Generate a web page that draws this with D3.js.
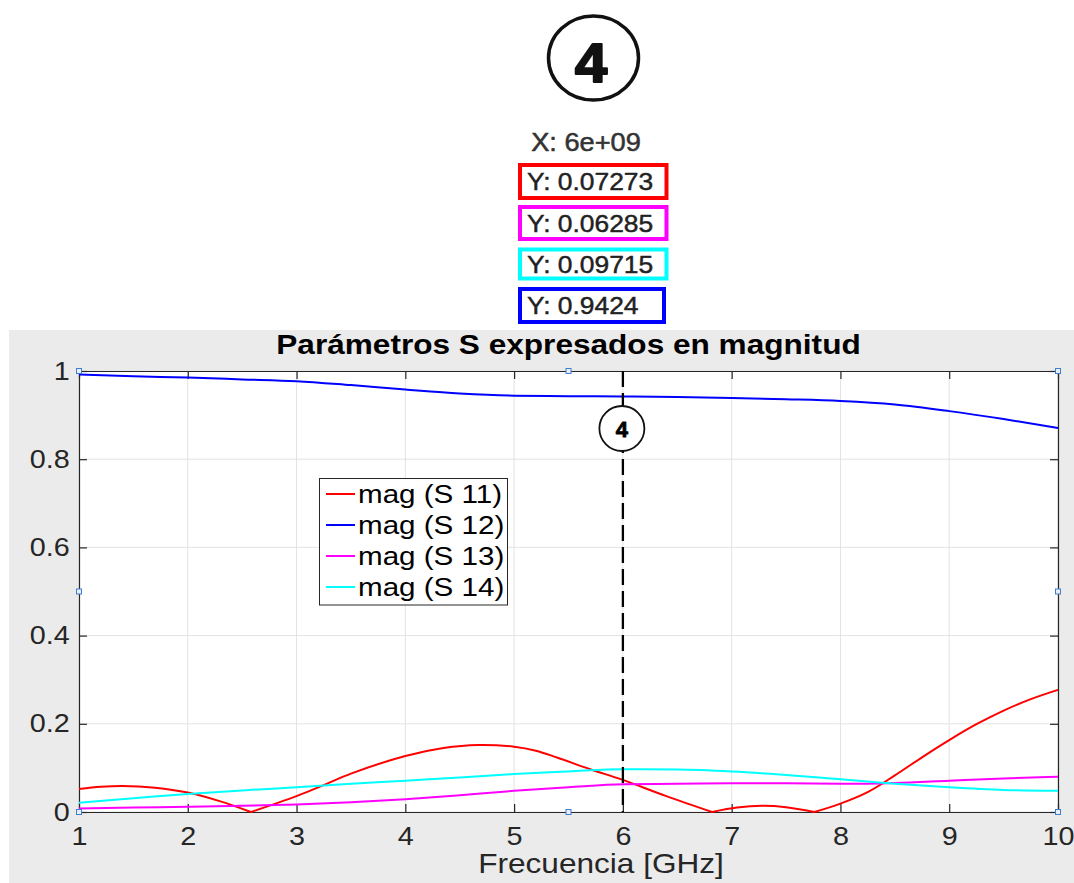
<!DOCTYPE html>
<html><head><meta charset="utf-8">
<script src="https://cdn.jsdelivr.net/npm/d3@7"></script>
<style>
html,body{margin:0;padding:0;background:#fff;}
svg{display:block;}
text{font-family:"Liberation Sans",Arial,Helvetica,sans-serif;}
</style></head>
<body>
<svg id="chart" width="1074" height="883"></svg>
<script>
// ---------- data ----------
const freq = [1,1.5,2,2.5,3,3.5,4,4.5,5,5.5,6,6.5,7,7.5,8,8.5,9,9.5,10];
const magS12 = [0.992,0.988,0.985,0.981,0.977,0.968,0.958,0.949,0.944,0.943,0.9424,0.941,0.939,0.936,0.932,0.924,0.909,0.891,0.871];
const magS13 = [0.008,0.010,0.012,0.014,0.017,0.022,0.029,0.038,0.048,0.056,0.06285,0.064,0.065,0.065,0.064,0.066,0.071,0.076,0.080];
const magS14 = [0.021,0.031,0.041,0.049,0.056,0.064,0.071,0.078,0.086,0.092,0.09715,0.0965,0.092,0.084,0.074,0.064,0.056,0.050,0.048];
const freqS11 = [1,1.2,1.4,1.7,2,2.3,2.58,3,3.25,3.5,4,4.35,4.67,5,5.2,5.4,5.7,6,6.4,6.82,7.05,7.28,7.5,7.76,8,8.25,8.5,8.75,9,9.25,9.5,9.75,10];
const magS11  = [0.052,0.057,0.059,0.055,0.044,0.024,0,0.036,0.061,0.087,0.127,0.145,0.152,0.148,0.139,0.123,0.097,0.07273,0.036,0,0.010,0.014,0.011,0,0.019,0.045,0.083,0.124,0.163,0.199,0.230,0.256,0.277];

const seriesNames = ["mag (S 11)","mag (S 12)","mag (S 13)","mag (S 14)"];
const seriesColors = ["#ff0000","#0000ff","#ff00ff","#00ffff"];
const xTicks = [1,2,3,4,5,6,7,8,9,10];
const yTicks = [0,0.2,0.4,0.6,0.8,1];
const yTickLabels = ["0","0.2","0.4","0.6","0.8","1"];
const markerX = 6;
const markerLabel = "4";
const datatipX = "X: 6e+09";
const datatipY = ["Y: 0.07273","Y: 0.06285","Y: 0.09715","Y: 0.9424"];
const datatipColors = ["#ff0000","#ff00ff","#00ffff","#0000ff"];
const titleText = "Parámetros S expresados en magnitud";
const xLabelText = "Frecuencia [GHz]";

// ---------- layout ----------
const svg = d3.select("#chart");
const SX = 1.15; // horizontal stretch of text seen in reference
const L = 79, R = 1058, T = 371, B = 812;
const x = d3.scaleLinear().domain([1,10]).range([L,R]);
const y = d3.scaleLinear().domain([0,1]).range([B,T]);
const axisColor = "#262626";

function stretchedText(parent, px, py, str, opts) {
  const g = parent.append("g").attr("transform", `translate(${px},${py}) scale(${opts.sx||SX},1)`);
  const t = g.append("text").attr("x",0).attr("y",0)
    .attr("text-anchor", opts.anchor||"middle")
    .attr("font-size", opts.size)
    .attr("font-weight", opts.weight||"normal")
    .attr("fill", opts.fill||"#000")
    .text(str);
  if (opts.stroke) t.attr("stroke", opts.fill||"#000").attr("stroke-width", opts.stroke).attr("stroke-linejoin","round");
  return t;
}

// ---------- datatip header ----------
svg.append("ellipse").attr("cx",593.5).attr("cy",58).attr("rx",45).attr("ry",42)
  .attr("fill","#fff").attr("stroke","#111").attr("stroke-width",3.5);
stretchedText(svg, 591, 82, markerLabel, {size:55, weight:"bold", sx:1.05, fill:"#111", stroke:2.2});
stretchedText(svg, 586, 151, datatipX, {size:25, fill:"#333", sx:1.09, stroke:0.5});
const boxY = [165, 207, 249.5, 289];
const boxH = [33, 32, 29, 33];
datatipY.forEach((s,i)=>{
  const w = i===3 ? 144 : 146.5;
  svg.append("rect").attr("x",520).attr("y",boxY[i]).attr("width",w).attr("height",boxH[i])
    .attr("fill","#fff").attr("stroke",datatipColors[i]).attr("stroke-width",4);
  stretchedText(svg, 527, boxY[i]+boxH[i]/2+8.5, s, {size:24, anchor:"start", fill:"#222", sx:1.1, stroke:0.45});
});

// ---------- figure background ----------
svg.append("rect").attr("x",9).attr("y",330).attr("width",1065).attr("height",553).attr("fill","#ebebeb");
svg.append("rect").attr("x",L).attr("y",T).attr("width",R-L).attr("height",B-T).attr("fill","#fff");

// grid
const grid = svg.append("g");
grid.selectAll("line.gx").data(xTicks).join("line")
  .attr("x1",d=>x(d)).attr("x2",d=>x(d)).attr("y1",T).attr("y2",B)
  .attr("stroke","#e3e3e3").attr("stroke-width",1);
grid.selectAll("line.gy").data(yTicks).join("line")
  .attr("x1",L).attr("x2",R).attr("y1",d=>y(d)).attr("y2",d=>y(d))
  .attr("stroke","#e3e3e3").attr("stroke-width",1);

// axes
function styleAxis(g){
  g.select(".domain").attr("stroke",axisColor).attr("stroke-width",1.2);
  g.selectAll(".tick line").attr("stroke",axisColor).attr("stroke-width",1.2);
  g.selectAll(".tick text").attr("fill",axisColor).attr("font-family",'"Liberation Sans",Arial,sans-serif');
}
const gx = svg.append("g").attr("transform",`translate(0,${B})`)
  .call(d3.axisBottom(x).tickValues(xTicks).tickFormat(d3.format("d")).tickSize(-8).tickSizeOuter(0).tickPadding(15));
styleAxis(gx);
gx.selectAll(".tick text").attr("font-size",25).attr("transform",`scale(${SX},1)`);
const gy = svg.append("g").attr("transform",`translate(${L},0)`)
  .call(d3.axisLeft(y).tickValues(yTicks).tickFormat((d,i)=>yTickLabels[i]).tickSize(-8).tickSizeOuter(0).tickPadding(8));
styleAxis(gy);
gy.selectAll(".tick text").attr("font-size",25).attr("transform",`scale(${SX},1)`);
const gt = svg.append("g").attr("transform",`translate(0,${T})`)
  .call(d3.axisTop(x).tickValues(xTicks).tickFormat("").tickSize(-8).tickSizeOuter(0));
styleAxis(gt);
const gr = svg.append("g").attr("transform",`translate(${R},0)`)
  .call(d3.axisRight(y).tickValues(yTicks).tickFormat("").tickSize(-8).tickSizeOuter(0));
styleAxis(gr);

// ---------- lines ----------
const lineGen = d3.line().x(d=>x(d[0])).y(d=>y(d[1])).curve(d3.curveMonotoneX);
const redGen = d3.line().x(d=>x(d[0])).y(d=>y(d[1])).curve(d3.curveCatmullRom.alpha(0.5));
const plot = svg.append("g");
function drawSeries(fx, vals, color){
  plot.append("path").attr("d", lineGen(fx.map((f,i)=>[f,vals[i]])))
    .attr("fill","none").attr("stroke",color).attr("stroke-width",2);
}
// S11: split into arcs at its zeros so the notches stay sharp
(function(){
  const pts = freqS11.map((f,i)=>[f,magS11[i]]);
  let seg = [];
  const flush = () => plot.append("path").attr("d", redGen(seg)).attr("fill","none")
      .attr("stroke",seriesColors[0]).attr("stroke-width",2);
  pts.forEach((p,i)=>{
    seg.push(p);
    if (p[1]===0 && i>0 && i<pts.length-1){ flush(); seg=[p]; }
  });
  flush();
})();
drawSeries(freq, magS13, seriesColors[2]);
drawSeries(freq, magS14, seriesColors[3]);
drawSeries(freq, magS12, seriesColors[1]);

// marker
svg.append("line").attr("x1",x(markerX)).attr("x2",x(markerX)).attr("y1",T).attr("y2",B)
  .attr("stroke","#000").attr("stroke-width",2.3).attr("stroke-dasharray","16,6");
svg.append("circle").attr("cx",x(markerX)-1).attr("cy",428.5).attr("r",22.5)
  .attr("fill","#fff").attr("stroke","#111").attr("stroke-width",1.8);
stretchedText(svg, x(markerX)-1, 437, markerLabel, {size:22, weight:"bold", sx:1.0, stroke:0.8});

// ---------- legend ----------
const leg = svg.append("g");
leg.append("rect").attr("x",319.5).attr("y",478.5).attr("width",188).attr("height",126.5)
  .attr("fill","#fff").attr("stroke",axisColor).attr("stroke-width",1);
const legY = [494, 525, 556, 587];
seriesNames.forEach((n,i)=>{
  leg.append("line").attr("x1",326).attr("x2",355).attr("y1",legY[i]).attr("y2",legY[i])
    .attr("stroke",seriesColors[i]).attr("stroke-width",2);
  stretchedText(leg, 358, legY[i]+9, n, {size:25.5, anchor:"start", fill:"#000", sx:1.16});
});

// ---------- title & x label ----------
stretchedText(svg, (L+R)/2, 354, titleText, {size:27, weight:"bold", sx:1.17});
stretchedText(svg, 601, 873, xLabelText, {size:27, fill:axisColor, sx:1.17});

// selection handles
const hx = [L,(L+R)/2,R], hy = [T,(T+B)/2,B];
hx.forEach(a=>hy.forEach(b=>{
  if (a===(L+R)/2 && b===(T+B)/2) return;
  svg.append("rect").attr("x",a-2.5).attr("y",b-2.5).attr("width",5).attr("height",5)
    .attr("fill","#e8eef8").attr("stroke","#3f7fd0").attr("stroke-width",1);
}));
</script>
</body></html>
